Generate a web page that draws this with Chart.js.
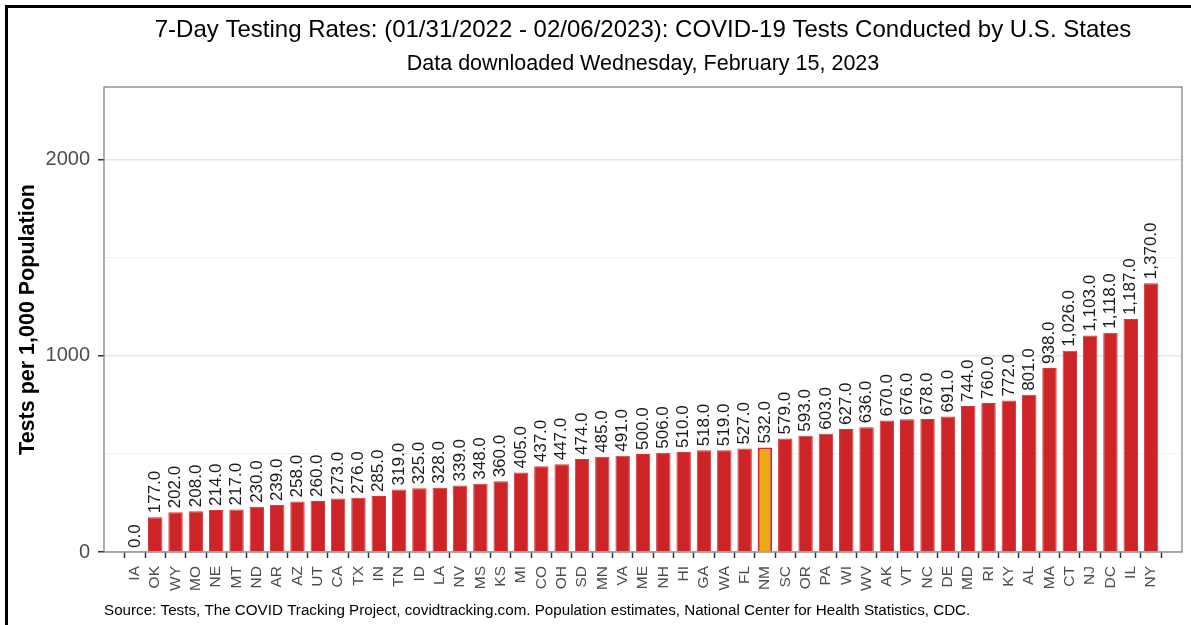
<!DOCTYPE html>
<html><head><meta charset="utf-8">
<script src="https://cdn.jsdelivr.net/npm/chart.js@4.4.1/dist/chart.umd.min.js"></script>
<style>html,body{margin:0;padding:0;background:#fff;}canvas{display:block;}</style>
</head><body>
<canvas id="c" width="1191" height="625"></canvas>
<script>
const states = ['IA','OK','WY','MO','NE','MT','ND','AR','AZ','UT','CA','TX','IN','TN','ID','LA','NV','MS','KS','MI','CO','OH','SD','MN','VA','ME','NH','HI','GA','WA','FL','NM','SC','OR','PA','WI','WV','AK','VT','NC','DE','MD','RI','KY','AL','MA','CT','NJ','DC','IL','NY'];
const rates = [0,177,202,208,214,217,230,239,258,260,273,276,285,319,325,328,339,348,360,405,437,447,474,485,491,500,506,510,518,519,527,532,579,593,603,627,636,670,676,678,691,744,760,772,801,938,1026,1103,1118,1187,1370];
const highlightState = 'NM';
const yTickValues = [0,500,1000,1500,2000];
const yMajorTicks = [0,1000,2000];
const yMax = 2370;
const titleText = '7-Day Testing Rates: (01/31/2022 - 02/06/2023): COVID-19 Tests Conducted by U.S. States';
const subtitleText = 'Data downloaded Wednesday, February 15, 2023';
const yAxisTitle = 'Tests per 1,000 Population';
const captionText = 'Source: Tests, The COVID Tracking Project, covidtracking.com. Population estimates, National Center for Health Statistics, CDC.';

const FONT = "'Liberation Sans', Arial, Helvetica, sans-serif";
Chart.defaults.font.family = FONT;

const fmt = v => v.toLocaleString('en-US', {minimumFractionDigits: 1, maximumFractionDigits: 1});

const decor = {
  id: 'decor',
  beforeDraw(chart) {
    const ctx = chart.ctx;
    ctx.save();
    ctx.fillStyle = '#fff';
    ctx.fillRect(0, 0, chart.width, chart.height);
    ctx.restore();
  },
  afterDatasetsDraw(chart) {
    const ctx = chart.ctx, a = chart.chartArea;
    const meta = chart.getDatasetMeta(0);
    ctx.save();
    ctx.font = '17px ' + FONT;
    ctx.fillStyle = '#1a1a1a';
    ctx.textAlign = 'left';
    ctx.textBaseline = 'middle';
    meta.data.forEach((el, i) => {
      ctx.save();
      ctx.translate(el.x, el.y - 4);
      ctx.rotate(-Math.PI / 2);
      ctx.fillText(fmt(rates[i]), 0, 0);
      ctx.restore();
    });
    // panel border
    ctx.strokeStyle = '#7a7a7a';
    ctx.lineWidth = 1.2;
    ctx.strokeRect(a.left, a.top, a.right - a.left, a.bottom - a.top);
    ctx.restore();
  },
  afterDraw(chart) {
    const ctx = chart.ctx, a = chart.chartArea;
    const cx = (a.left + a.right) / 2;
    ctx.save();
    ctx.fillStyle = '#000';
    ctx.textAlign = 'center';
    ctx.textBaseline = 'alphabetic';
    ctx.font = '24px ' + FONT;
    ctx.fillText(titleText, cx, 36.5);
    ctx.font = '21.5px ' + FONT;
    ctx.fillText(subtitleText, cx, 70);
    ctx.textAlign = 'left';
    ctx.font = '15.2px ' + FONT;
    ctx.fillText(captionText, a.left, 614.5);
    // y axis title
    ctx.save();
    ctx.translate(33.5, (a.top + a.bottom) / 2);
    ctx.rotate(-Math.PI / 2);
    ctx.textAlign = 'center';
    ctx.font = 'bold 21.5px ' + FONT;
    ctx.fillText(yAxisTitle, 0, 0);
    ctx.restore();
    // outer black frame (left and top)
    ctx.fillStyle = '#000';
    ctx.fillRect(5, 5, 3, chart.height - 5);
    ctx.fillRect(5, 5, chart.width - 5, 3);
    ctx.restore();
  }
};

const points = rates.map((v, i) => ({x: i, y: v}));

new Chart(document.getElementById('c'), {
  type: 'bar',
  data: {
    datasets: [{
      data: points,
      backgroundColor: states.map(s => s === highlightState ? '#EBA915' : '#CD2428'),
      borderColor: states.map(s => s === highlightState ? '#D2292C' : '#D6393B'),
      borderWidth: states.map(s => s === highlightState ? 2 : 1),
      barPercentage: 0.71,
      categoryPercentage: 1.0
    }]
  },
  plugins: [decor],
  options: {
    responsive: false,
    animation: false,
    devicePixelRatio: 1,
    layout: {padding: {left: 0, top: 87, right: 9, bottom: 0}},
    plugins: {legend: {display: false}, tooltip: {enabled: false}, title: {display: false}},
    scales: {
      x: {
        type: 'linear',
        min: -1,
        max: 51,
        afterBuildTicks: s => { s.ticks = states.map((_, i) => ({value: i})); },
        afterFit: s => { s.height = 73; },
        border: {display: false},
        grid: {drawOnChartArea: false, tickLength: 6, tickColor: '#333', tickWidth: 1.5},
        ticks: {
          autoSkip: false,
          minRotation: 90,
          maxRotation: 90,
          padding: 8,
          color: '#4d4d4d',
          font: {size: 15.5},
          callback: v => states[v] ?? ''
        }
      },
      y: {
        min: 0,
        max: yMax,
        afterBuildTicks: s => { s.ticks = yTickValues.map(v => ({value: v})); },
        afterFit: s => { s.width = 104; },
        border: {display: false},
        grid: {
          color: c => yMajorTicks.includes(c.tick.value) ? '#e6e6e6' : '#f2f2f2',
          lineWidth: c => yMajorTicks.includes(c.tick.value) ? 1.5 : 1,
          tickColor: c => yMajorTicks.includes(c.tick.value) ? '#333' : 'rgba(0,0,0,0)',
          tickWidth: 1.5,
          tickLength: 6
        },
        ticks: {
          padding: 8,
          color: '#4d4d4d',
          font: {size: 20},
          callback: v => yMajorTicks.includes(v) ? String(v) : ''
        }
      }
    }
  }
});
</script>
</body></html>
